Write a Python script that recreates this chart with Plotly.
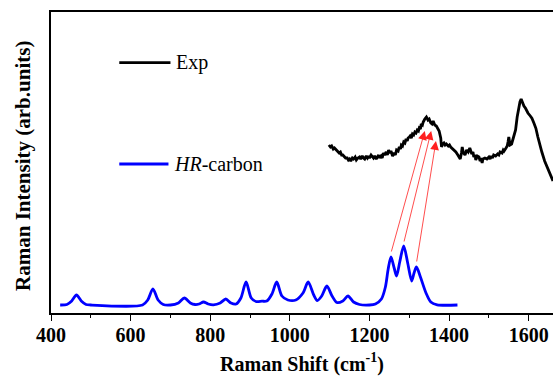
import plotly.graph_objects as go

# HR-carbon simulated spectrum (Raman shift, intensity a.u.)
hr_shift = [423, 440, 452, 464, 476, 488, 500, 630, 643, 656, 669, 682, 700, 720, 735, 750,
            762, 772, 783, 795, 808, 825, 839, 852, 865, 877, 890, 903, 915, 930, 942, 955,
            967, 980, 995, 1015, 1033, 1046, 1060, 1069, 1080, 1093, 1106, 1118, 1133, 1146,
            1160, 1175, 1200, 1215, 1230, 1240, 1247, 1254, 1262, 1268, 1276, 1286, 1296,
            1306, 1312, 1318, 1328, 1342, 1354, 1370, 1421]
hr_int = [8, 8.5, 12, 18, 12, 8.5, 8, 8, 13, 24, 13, 8.5, 8, 10, 15, 10,
          8.5, 9, 11, 9, 8.2, 10, 14, 10, 9, 15, 31, 15, 11.5, 11.8, 12, 19,
          31, 17, 13, 13, 20, 31, 18, 12.5, 17, 27, 17, 10.5, 12, 17,
          11, 8.5, 8, 9, 14, 26, 44, 56, 45, 37, 51, 67, 50,
          32, 40, 46, 36, 20, 11, 8.2, 8]

# Experimental spectrum
exp_shift = [1098, 1102, 1105, 1109, 1112, 1116, 1120, 1124, 1127, 1130, 1133, 1137, 1140,
             1144, 1147, 1150, 1153, 1157, 1160, 1164, 1167, 1171, 1175, 1178, 1182, 1185,
             1188, 1192, 1195, 1198, 1200, 1204, 1207, 1210, 1213, 1217, 1220, 1223, 1225,
             1229, 1232, 1235, 1238, 1242, 1245, 1248, 1251, 1254, 1258, 1262, 1265, 1268,
             1272, 1275, 1278, 1280, 1283, 1286, 1289, 1292, 1295, 1297, 1300, 1302, 1305,
             1308, 1311, 1314, 1317, 1320, 1323, 1325, 1328, 1330, 1333, 1335, 1339, 1343,
             1347, 1350, 1354, 1357, 1360, 1364, 1368, 1372, 1375, 1379, 1381, 1384, 1387,
             1390, 1393, 1398, 1401, 1404, 1407, 1410, 1414, 1417, 1422, 1425, 1428, 1431,
             1433, 1436, 1440, 1444, 1448, 1452, 1457, 1460, 1462, 1465, 1467, 1471, 1475,
             1478, 1480, 1483, 1485, 1490, 1495, 1500, 1503, 1506, 1509, 1512, 1517, 1522,
             1525, 1528, 1533, 1536, 1538, 1543, 1546, 1548, 1550, 1553, 1557, 1562, 1567,
             1571, 1575, 1578, 1581, 1584, 1588, 1592, 1598, 1604, 1608, 1613, 1618, 1623,
             1628, 1633, 1640, 1645, 1650, 1655, 1661]
exp_int = [168, 166, 167, 164, 165, 163, 162, 160, 161, 158, 158, 156, 155,
           155, 153, 154, 152, 155, 154, 156, 153, 155, 156, 154, 157, 155,
           154, 157, 155, 157, 155, 158, 156, 155, 157, 154, 156, 158, 155,
           157, 155, 160, 158, 161, 158, 163, 160, 162, 157, 160, 158, 163,
           162, 166, 164, 168, 167, 171, 170, 174, 172, 175, 176, 177, 175,
           179, 178, 181, 180, 183, 182, 185, 184, 189, 188, 191, 194, 196,
           193, 194, 190, 189, 192, 188, 187, 184, 182, 175, 166, 169, 170,
           168, 169, 167, 168, 166, 165, 164, 162, 161, 158, 156, 154, 160,
           166, 160, 158, 163, 161, 165, 159, 161, 156, 158, 153, 157, 156,
           152, 155, 150, 154, 155, 154, 156, 154, 157, 155, 158, 157, 159,
           158, 161, 160, 163, 162, 165, 167, 171, 176, 168, 169, 176, 183,
           196, 206, 211, 214, 210, 207, 204.7, 200, 197, 194.7,
           190, 184.7, 176, 168, 161, 152, 147, 143, 138, 132]

# Arrows: (from HR-carbon peak) -> (to experimental band)
arrow_from_x = [1254, 1286, 1318]
arrow_from_y = [60, 70, 50]
arrow_to_x = [1339, 1355, 1367]
arrow_to_y = [182, 182, 172]

x_ticks = [400, 600, 800, 1000, 1200, 1400, 1600]

FONT = "Liberation Serif"

fig = go.Figure()
fig.add_trace(go.Scatter(x=exp_shift, y=exp_int, mode="lines",
                         line=dict(color="black", width=2.8), name="Exp",
                         showlegend=False))
fig.add_trace(go.Scatter(x=hr_shift, y=hr_int, mode="lines",
                         line=dict(color="#0000ff", width=2.8, shape="spline", smoothing=0.8),
                         name="HR-carbon", showlegend=False))

for fx, fy, tx, ty in zip(arrow_from_x, arrow_from_y, arrow_to_x, arrow_to_y):
    fig.add_annotation(x=tx, y=ty, ax=fx, ay=fy, xref="x", yref="y", axref="x", ayref="y",
                       text="", showarrow=True, arrowhead=2, arrowsize=2.2, arrowwidth=0.8,
                       arrowcolor="#ff2020", standoff=0, startstandoff=0)

# Legend (manual)
fig.add_shape(type="line", xref="paper", yref="paper", x0=0.136, x1=0.238, y0=0.832, y1=0.832,
              line=dict(color="black", width=2.8))
fig.add_annotation(xref="paper", yref="paper", x=0.246, y=0.832, text="Exp", showarrow=False,
                   xanchor="left", yanchor="middle", font=dict(family=FONT, size=20, color="black"))
fig.add_shape(type="line", xref="paper", yref="paper", x0=0.136, x1=0.234, y0=0.495, y1=0.495,
              line=dict(color="#0000ff", width=2.8))
fig.add_annotation(xref="paper", yref="paper", x=0.242, y=0.495, text="<i>HR</i>-carbon",
                   showarrow=False, xanchor="left", yanchor="middle",
                   font=dict(family=FONT, size=20, color="black"))

# Y axis title
fig.add_annotation(xref="paper", yref="paper", x=-0.057, y=0.49, text="<b>Raman Intensity (arb.units)</b>",
                   showarrow=False, textangle=-90, xanchor="center", yanchor="middle",
                   font=dict(family=FONT, size=21, color="black"))

fig.update_layout(
    width=553, height=379,
    margin=dict(l=50.5, r=0, t=12, b=66),
    paper_bgcolor="white", plot_bgcolor="white",
    xaxis=dict(range=[400, 1661], tickvals=x_ticks, ticktext=[f"<b>{v}</b>" for v in x_ticks],
               showline=True, linecolor="black", linewidth=1.5, mirror=True,
               ticks="outside", ticklen=6, tickwidth=1.3, tickcolor="black",
               ticklabelstandoff=-3,
               minor=dict(ticks="outside", ticklen=3.5, tickwidth=1.3, tickcolor="black", dtick=100,
                          tick0=400, showgrid=False),
               showgrid=False, zeroline=False,
               tickfont=dict(family=FONT, size=20, color="black"),
               title=dict(text="<b>Raman Shift (cm<sup>-1</sup>)</b>", standoff=12,
                          font=dict(family=FONT, size=20, color="black"))),
    yaxis=dict(range=[0, 301], showline=True, linecolor="black", linewidth=1.5, mirror=False,
               showticklabels=False, ticks="", showgrid=False, zeroline=False),
)

fig.write_html("out.html")
